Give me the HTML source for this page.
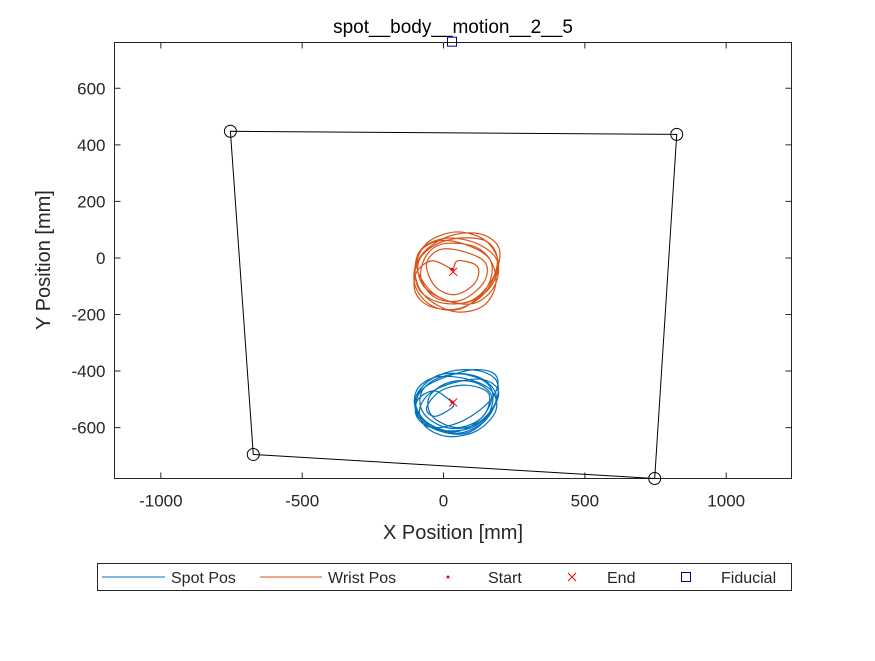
<!DOCTYPE html>
<html><head><meta charset="utf-8"><style>
body{margin:0;background:#fff;}
svg text{font-family:"Liberation Sans",Arial,sans-serif;fill:#262626;}
</style></head><body>
<svg id="chart" width="875" height="656" xmlns="http://www.w3.org/2000/svg">
<rect x="0" y="0" width="875" height="656" fill="#fff"/>
<text x="453" y="33" font-size="19" text-anchor="middle" style="fill:#000">spot__body__motion__2__5</text>
<rect x="114.5" y="42.5" width="677" height="436" fill="none" stroke="#262626" stroke-width="1"/>
<g id="xticks"></g>
<g id="yticks"></g>
<text x="453" y="539" font-size="20" text-anchor="middle">X Position [mm]</text>
<text transform="translate(50,260) rotate(-90)" font-size="20" text-anchor="middle">Y Position [mm]</text>
<g id="series"></g>
<g>
<rect x="97.5" y="563.5" width="694" height="27" fill="#fff" stroke="#262626"/>
<line x1="102" y1="577" x2="165" y2="577" stroke="#0072BD"/>
<text x="171" y="583" font-size="16">Spot Pos</text>
<line x1="260" y1="577" x2="322" y2="577" stroke="#D95319"/>
<text x="328" y="583" font-size="16">Wrist Pos</text>
<circle cx="448" cy="577" r="1.5" fill="#f00"/>
<text x="488" y="583" font-size="16">Start</text>
<path d="M568 573 L576 581 M576 573 L568 581" stroke="#f00"/>
<text x="607" y="583" font-size="16">End</text>
<rect x="681.5" y="572.5" width="9" height="9" fill="none" stroke="#00008B"/>
<text x="721" y="583" font-size="16">Fiducial</text>
</g>
</svg>
<script>
const xTicks=[-1000,-500,0,500,1000];
const yTicks=[-600,-400,-200,0,200,400,600];
const cornerX=[-754,825,747,-673];
const cornerY=[448,437,-780,-695];
const fiducialX=[30];
const fiducialY=[765];
const spotX=[30,-30,-90,-95,-40,60,150,190,180,110,10,-70,-100,-80,0,100,170,194,140,40,-50,-85,-60,20,120,185,170,90,-20,-90,-100,-50,50,140,175,150,60,-30,-80,-70,10,110,180,190,130,30,-60,-95,-90,-20,80,160,185,120,0,-70,-100,-60,40,130,170,110,20,-50,-40,50,140,160,80,-10,-60,-30,30,34];
const spotY=[-510,-470,-500,-560,-600,-580,-520,-460,-410,-395,-420,-460,-520,-580,-610,-600,-540,-470,-430,-440,-480,-540,-600,-632,-610,-540,-470,-430,-420,-460,-530,-590,-620,-580,-500,-440,-410,-430,-480,-550,-600,-590,-520,-440,-400,-400,-440,-500,-560,-610,-620,-560,-480,-420,-410,-450,-510,-580,-615,-570,-490,-440,-440,-490,-560,-600,-560,-480,-450,-470,-530,-560,-530,-511];
const wristX=[30,-40,-95,-100,-50,50,140,190,194,130,30,-60,-100,-80,0,100,170,190,150,50,-40,-90,-70,10,110,180,190,120,10,-80,-100,-60,40,140,185,160,70,-20,-85,-90,-30,70,160,194,150,50,-50,-95,-100,-40,60,150,170,110,0,-60,-80,-30,60,140,150,80,-10,-60,-30,40,110,120,50,34];
const wristY=[-40,-10,-50,-120,-170,-180,-130,-40,40,85,80,30,-40,-120,-160,-150,-80,0,60,70,40,-20,-100,-150,-160,-100,-10,50,70,30,-60,-140,-190,-170,-90,0,50,60,20,-50,-130,-160,-110,-20,60,92,60,-10,-100,-170,-180,-110,-20,40,50,10,-70,-140,-150,-90,-20,20,30,-20,-100,-130,-90,-30,-10,-49];
const startX=[30,30];
const startY=[-510,-40];
const endX=[34,34];
const endY=[-511,-49];

const X0=-1164,X1=1231,Y0=-780,Y1=762,L=114.5,R=791.5,T=42.5,B=478.5;
const sx=v=>L+(v-X0)/(X1-X0)*(R-L);
const sy=v=>B-(v-Y0)/(Y1-Y0)*(B-T);
const NS='http://www.w3.org/2000/svg';
function mk(tag,attrs,parent){const e=document.createElementNS(NS,tag);for(const k in attrs)e.setAttribute(k,attrs[k]);parent.appendChild(e);return e;}
const xg=document.getElementById('xticks'),yg=document.getElementById('yticks'),sg=document.getElementById('series');
xTicks.forEach(t=>{const x=sx(t);
 const l=mk('path',{d:`M${x} ${B} v-6 M${x} ${T} v6`,stroke:'#262626'},xg);
 
 
 const tx=mk('text',{x:x,y:B+28,'font-size':17,'text-anchor':'middle'},xg);tx.textContent=t;
 
 });
yTicks.forEach(t=>{const y=sy(t);
 const l=mk('path',{d:`M${L} ${y} h6 M${R} ${y} h-6`,stroke:'#262626'},yg);
 
 
 const tx=mk('text',{x:L-9,y:y+6,'font-size':17,'text-anchor':'end'},yg);tx.textContent=t;
 
 });
function smooth(xs,ys){const p=xs.map((v,i)=>[sx(v),sy(ys[i])]);let d=`M${p[0][0]} ${p[0][1]}`;
 for(let i=0;i<p.length-1;i++){const a=p[Math.max(0,i-1)],b=p[i],c=p[i+1],e=p[Math.min(p.length-1,i+2)];
  d+=` C${b[0]+(c[0]-a[0])/6} ${b[1]+(c[1]-a[1])/6} ${c[0]-(e[0]-b[0])/6} ${c[1]-(e[1]-b[1])/6} ${c[0]} ${c[1]}`;}return d;}
const poly=mk('polygon',{points:cornerX.map((v,i)=>sx(v)+','+sy(cornerY[i])).join(' '),fill:'none',stroke:'#000'},sg);


cornerX.forEach((v,i)=>{const c=mk('circle',{cx:sx(v),cy:sy(cornerY[i]),r:6,fill:'none',stroke:'#000'},sg);
 
 });
const sp=mk('path',{d:smooth(spotX,spotY),fill:'none',stroke:'#0072BD','stroke-width':1.2},sg);


const wp=mk('path',{d:smooth(wristX,wristY),fill:'none',stroke:'#D95319','stroke-width':1.2},sg);


startX.forEach((v,i)=>{const c=mk('circle',{cx:sx(v),cy:sy(startY[i]),r:1.5,fill:'#f00'},sg);
 
 });
endX.forEach((v,i)=>{const x=sx(v),y=sy(endY[i]);const c=mk('path',{d:`M${x-4} ${y-4} L${x+4} ${y+4} M${x+4} ${y-4} L${x-4} ${y+4}`,stroke:'#f00'},sg);
 
 });
fiducialX.forEach((v,i)=>{const c=mk('rect',{x:sx(v)-4.5,y:sy(fiducialY[i])-4.5,width:9,height:9,fill:'none',stroke:'#00008B'},sg);
 
 });
</script>
</body></html>
